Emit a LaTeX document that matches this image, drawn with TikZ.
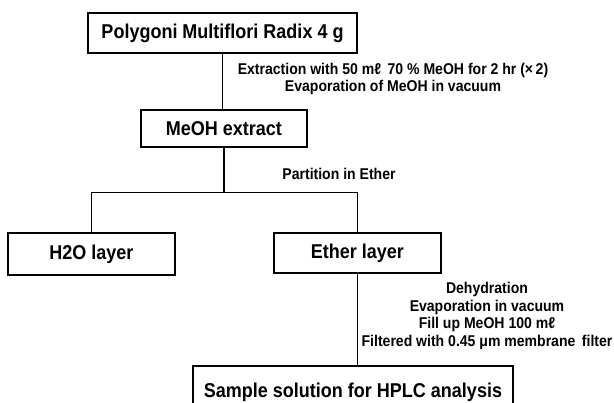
\documentclass[tikz,border=0pt]{standalone}
\usepackage{fontspec}
\setmainfont{Liberation Sans}[FakeStretch=0.9]
\begin{document}
\begin{tikzpicture}[x=1pt,y=-1pt,
		stepbox/.style={draw,line width=1.3pt,inner sep=0pt,font=\fontsize{20}{22}\selectfont\bfseries},
		note/.style={align=center,inner sep=0pt,font=\fontsize{15.6}{17.5}\selectfont\bfseries},
		link/.style={line width=1.2pt}]
			\clip(0,0)rectangle(614,403);
			\node[stepbox,minimum width=269pt,minimum height=40pt](herb)at(222.5,33){Polygoni Multiflori Radix 4 g};
			\node[stepbox,minimum width=166pt,minimum height=37pt](meoh)at(224,128.5){MeOH extract};
			\node[stepbox,minimum width=167pt,minimum height=42pt](water)at(91.5,254){H2O layer};
			\node[stepbox,minimum width=167pt,minimum height=40pt](ether)at(357.5,253){Ether layer};
			\node[stepbox,minimum width=320pt,minimum height=52pt](sample)at(353,392){Sample solution for HPLC analysis};
			\coordinate(split)at(224,192.5);
			\draw[link](herb.south)--(herb.south|-meoh.north);
			\draw[link](meoh.south)--(split);
			\draw[link](water.north|-split)--(ether.north|-split);
			\draw[link](water.north|-split)--(water.north);
			\draw[link](ether.north|-split)--(ether.north);
			\draw[link](ether.south)--(ether.south|-sample.north);
			\node[note](extract)at(393,79){Extraction with 50 mℓ\,\ 70 \% MeOH for 2 hr (×\,2)\\Evaporation of MeOH in vacuum};
			\node[note](part)at(339,174){Partition in Ether};
			\node[note](prep)at(487,316){Dehydration\\Evaporation in vacuum\\Fill up MeOH 100 mℓ\\Filtered with 0.45 μm membrane\,\ filter};
		\end{tikzpicture}
\end{document}
